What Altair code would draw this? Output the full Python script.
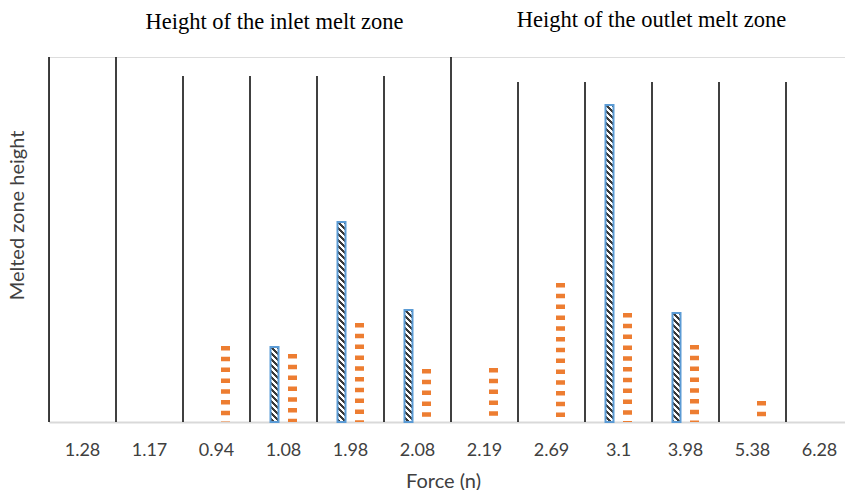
import math
import altair as alt

# ---- data ----
forces = ["1.28", "1.17", "0.94", "1.08", "1.98", "2.08", "2.19", "2.69", "3.1", "3.98", "5.38", "6.28"]
inlet_height = [0, 0, 0, 0.75, 2.00, 1.12, 0, 0, 3.17, 1.09, 0, 0]
outlet_height = [0, 0, 0.76, 0.68, 0.99, 0.53, 0.54, 1.39, 1.09, 0.77, 0.21, 0]
separator_top = [3.65, 3.65, 3.46, 3.46, 3.46, 3.46, 3.65, 3.40, 3.40, 3.40, 3.40, 3.40]
group_titles = ["Height of the inlet melt zone", "Height of the outlet melt zone"]

# ---- layout / style ----
VIEW_W = 796
RANGE_W = 804
VIEW_H = 365
YMAX = 3.65
BAR_W = 8
HATCH_PERIOD = 6.0
DARK = "#3a3a3a"
LIGHT = "#ffffff"
BLUE = "#5B9BD5"
ORANGE = "#ED7D31"
TXT = "#404040"


def hatch_gradient(value):
    """Diagonal hatch fill expressed as a hard-stop linear gradient (bbox units)."""
    h = value / YMAX * VIEW_H
    w = BAR_W
    k = (w + h) / (w * w + h * h)
    n = (w + h) / HATCH_PERIOD
    stops = []
    i = 0
    while i / n < 1:
        a, b, c = i / n, min((i + 0.5) / n, 1), min((i + 1) / n, 1)
        stops += [{"offset": a, "color": DARK}, {"offset": b, "color": DARK},
                  {"offset": b, "color": LIGHT}, {"offset": c, "color": LIGHT}]
        i += 1
    return {"gradient": "linear", "x1": 1, "y1": 0, "x2": 1 - k * w, "y2": k * h, "stops": stops}


rows = []
for f, a, b, s in zip(forces, inlet_height, outlet_height, separator_top):
    rows.append({"force": f, "inlet": a, "outlet": b, "sep": s,
                 "grad": hatch_gradient(a) if a > 0 else None})
data = alt.Data(values=rows)

xscale = alt.Scale(domain=forces, range=[0, RANGE_W], paddingInner=0, paddingOuter=0)
xaxis = alt.Axis(title="Force (n)", labelAngle=0, ticks=False, tickSize=0, grid=False,
                 domainColor="#d9d9d9", domainWidth=2, labelFont="Lato", labelFontSize=18,
                 labelColor=TXT, labelPadding=19, titleFont="Lato", titleFontSize=20,
                 titleFontWeight="normal", titleColor=TXT, titleBaseline="alphabetic",
                 titleY=65, titleX=394)
yscale = alt.Scale(domain=[0, YMAX], nice=False, zero=True)
yaxis = alt.Axis(title="Melted zone height", labels=False, ticks=False, domain=False, grid=False,
                 titleFont="Lato", titleFontSize=20, titleFontWeight="normal", titleColor=TXT,
                 titleBaseline="middle", titleX=-32, titleY=158, titleAngle=270)


def X(**kw):
    return alt.X("force:N", sort=forces, scale=xscale, axis=xaxis, **kw)


def Y(field):
    return alt.Y(f"{field}:Q", scale=yscale, axis=yaxis)


base = alt.Chart(data)

separators = base.mark_rule(color="black", strokeWidth=1.5).encode(
    x=X(bandPosition=0), y=Y("sep"), y2=alt.datum(0)
)

inlet_bars = base.transform_filter("datum.inlet > 0").mark_bar(
    width=BAR_W, xOffset=-9, stroke=BLUE, strokeWidth=2
).encode(x=X(), y=Y("inlet"), fill=alt.Fill("grad:N", scale=None))

outlet_bars = base.transform_filter("datum.outlet > 0").mark_rule(
    strokeWidth=9, strokeDash=[4.5, 6.3], xOffset=9, color=ORANGE
).encode(x=X(), y=Y("outlet"), y2=alt.datum(0))

title_in = alt.Chart(alt.Data(values=[{"t": group_titles[0]}])).mark_text(
    font="Liberation Serif", fontSize=22.5, color="#000000", baseline="alphabetic", align="center"
).encode(text="t:N", x=alt.value(274.5 - 49), y=alt.value(29 - 57))

title_out = alt.Chart(alt.Data(values=[{"t": group_titles[1]}])).mark_text(
    font="Liberation Serif", fontSize=22.5, color="#000000", baseline="alphabetic", align="center"
).encode(text="t:N", x=alt.value(651.5 - 49), y=alt.value(27 - 57))

chart = alt.layer(separators, inlet_bars, outlet_bars, title_in, title_out).properties(
    width=VIEW_W, height=VIEW_H,
    autosize=alt.AutoSizeParams(type="none"),
    padding={"left": 49, "top": 57, "right": 0, "bottom": 68},
).configure_view(stroke=None).configure(background="white")

chart.save("out.html", embed_options={"renderer": "svg", "actions": False})
